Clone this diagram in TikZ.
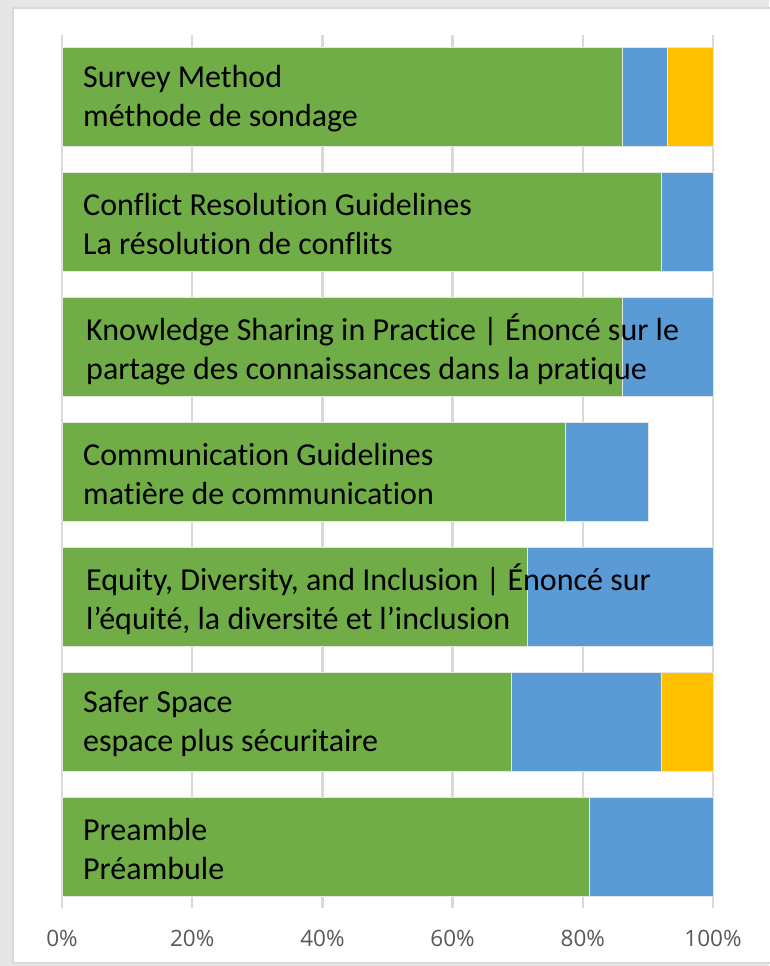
\documentclass[tikz,border=0pt]{standalone}
\usepackage{fontspec}
\setmainfont{Carlito}[Ligatures=NoCommon]
\newfontfamily\axisfont{Open Sans}
\definecolor{agree}{HTML}{70AD47}
\definecolor{neutral}{HTML}{5B9BD5}
\definecolor{disagree}{HTML}{FFC000}
\definecolor{grid}{HTML}{D9D9D9}
\definecolor{axis}{HTML}{595959}
\definecolor{backdrop}{HTML}{E6E6E6}
\tikzset{
  gridline/.style={draw=grid, line width=2.5pt},
  seg/.style={draw=white!90!black, line width=0.6pt},
  lab/.style={anchor=west, align=left, inner sep=0pt, font=\fontsize{32}{39}\selectfont},
  tick/.style={text=axis, inner sep=0pt, font=\axisfont\fontsize{22.5}{26}\selectfont},
}
\begin{document}
\begin{tikzpicture}[x=1pt, y=-1pt]
  \useasboundingbox (0,0) rectangle (769,966);
  \fill[backdrop] (0,0) rectangle (769,966);
  \filldraw[fill=white, draw=grid, line width=1.5pt] (13,8) rectangle (775,963);

  % gridlines and axis
  \foreach \p in {0,20,...,100} {
    \draw[gridline] ({62+6.51*\p},35) -- ({62+6.51*\p},908);
    \node[tick] (tick\p) at ({62+6.51*\p},938) {\p\%};
  }

  % bars: agree / neutral / disagree (cumulative %)
  \foreach \i/\g/\b/\o/\lx/\txt in {
      1/86/93/100/83/{Survey Method\\méthode de sondage},
      2/92/100/100/83/{Conflict Resolution Guidelines\\La résolution de conflits},
      3/86/100/100/86/{Knowledge Sharing in Practice | Énoncé sur le\\partage des connaissances dans la pratique},
      4/77.3/90/90/83/{Communication Guidelines\\matière de communication},
      5/71.4/100/100/86/{Equity, Diversity, and Inclusion | Énoncé sur\\l’équité, la diversité et l’inclusion},
      6/69/92/100/83/{Safer Space\\espace plus sécuritaire},
      7/81/100/100/83/{Preamble\\Préambule}} {
    \pgfmathsetmacro{\top}{47+125*(\i-1)}
    \fill[agree, seg] (62,\top) rectangle ({62+6.51*\g},\top+99);
    \fill[neutral, seg] ({62+6.51*\g},\top) rectangle ({62+6.51*\b},\top+99);
    \ifdim\o pt>\b pt
      \fill[disagree, seg] ({62+6.51*\b},\top) rectangle ({62+6.51*\o},\top+99);
    \fi
    \node[lab] (row\i) at (\lx,\top+52) {\txt};
  }
\end{tikzpicture}
\end{document}
